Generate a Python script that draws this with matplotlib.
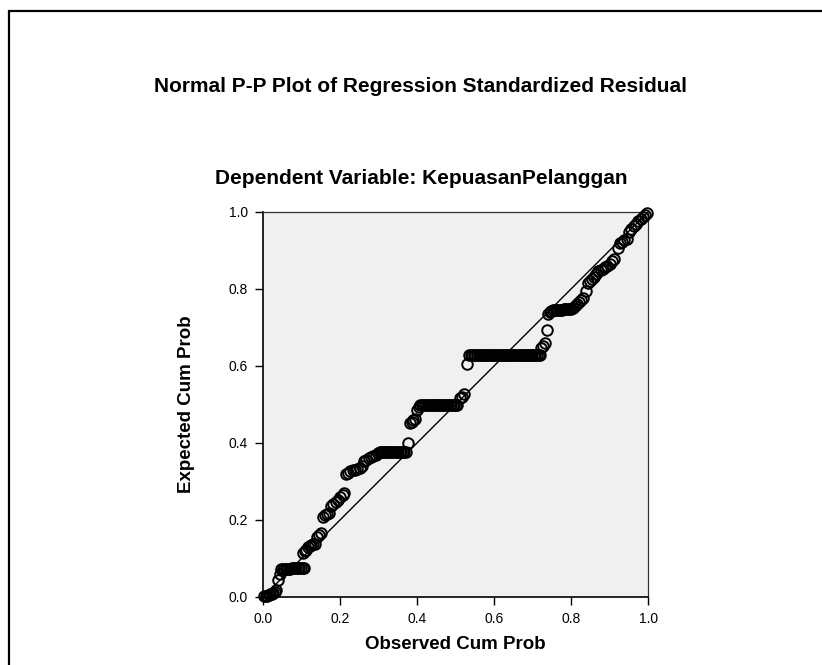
import matplotlib
matplotlib.use("Agg")
import matplotlib.pyplot as plt
from matplotlib.patches import Rectangle

plt.rcParams['font.family'] = ['Liberation Sans', 'DejaVu Sans']

title = "Normal P-P Plot of Regression Standardized Residual"
subtitle = "Dependent Variable: KepuasanPelanggan"
xlabel = "Observed Cum Prob"
ylabel = "Expected Cum Prob"
ticks = [0.0, 0.2, 0.4, 0.6, 0.8, 1.0]
tick_labels = ["0.0", "0.2", "0.4", "0.6", "0.8", "1.0"]

# observed cumulative probability (x) and expected cumulative probability (y)
obs_low = [0.003, 0.006, 0.010, 0.014, 0.018, 0.022, 0.026, 0.030, 0.034, 0.038, 0.043]
exp_low = [0.001, 0.002, 0.003, 0.004, 0.006, 0.008, 0.010, 0.013, 0.017, 0.043, 0.060]

obs_p1 = [0.046, 0.050, 0.054, 0.058, 0.062, 0.066, 0.070, 0.074, 0.078, 0.082,
          0.086, 0.090, 0.094, 0.098, 0.102, 0.106]
exp_p1 = [0.071, 0.072, 0.072, 0.073, 0.073, 0.073, 0.073, 0.074, 0.074, 0.074,
          0.074, 0.074, 0.074, 0.075, 0.075, 0.075]

obs_a = [0.104, 0.108, 0.112, 0.116, 0.120, 0.125, 0.130, 0.135, 0.140, 0.145, 0.150,
         0.155, 0.160, 0.165, 0.170,
         0.176, 0.182, 0.188, 0.194, 0.200, 0.206, 0.210,
         0.214, 0.220, 0.226, 0.232, 0.238, 0.244, 0.250, 0.256,
         0.262, 0.268, 0.274, 0.280, 0.286, 0.292, 0.298]
exp_a = [0.113, 0.118, 0.122, 0.128, 0.132, 0.134, 0.136, 0.138, 0.155, 0.160, 0.165,
         0.207, 0.212, 0.215, 0.218,
         0.235, 0.240, 0.245, 0.250, 0.258, 0.265, 0.270,
         0.318, 0.322, 0.326, 0.328, 0.330, 0.332, 0.335, 0.340,
         0.352, 0.356, 0.360, 0.362, 0.365, 0.368, 0.372]

obs_p2 = [0.302, 0.306, 0.310, 0.314, 0.318, 0.322, 0.326, 0.330, 0.334, 0.338,
          0.342, 0.346, 0.350, 0.354, 0.358, 0.362, 0.366, 0.370]
exp_p2 = [0.375, 0.375, 0.375, 0.375, 0.375, 0.375, 0.375, 0.375, 0.375, 0.375,
          0.375, 0.375, 0.375, 0.375, 0.375, 0.375, 0.375, 0.375]

obs_b = [0.375, 0.380, 0.385, 0.390, 0.395, 0.400, 0.404]
exp_b = [0.400, 0.450, 0.455, 0.458, 0.462, 0.485, 0.492]

obs_p3 = [0.408, 0.412, 0.416, 0.420, 0.424, 0.428, 0.432, 0.436, 0.440, 0.444,
          0.448, 0.452, 0.456, 0.460, 0.464, 0.468, 0.472, 0.476, 0.480, 0.484,
          0.488, 0.492, 0.496, 0.500, 0.504]
exp_p3 = [0.498, 0.498, 0.498, 0.498, 0.498, 0.498, 0.498, 0.498, 0.498, 0.498,
          0.498, 0.498, 0.498, 0.498, 0.498, 0.498, 0.498, 0.498, 0.498, 0.498,
          0.498, 0.498, 0.498, 0.498, 0.498]

obs_c = [0.510, 0.515, 0.520, 0.530]
exp_c = [0.515, 0.520, 0.527, 0.605]

obs_p4 = [0.535, 0.539, 0.543, 0.547, 0.551, 0.555, 0.559, 0.563, 0.567, 0.571,
          0.575, 0.579, 0.583, 0.587, 0.591, 0.595, 0.599, 0.603, 0.607, 0.611,
          0.615, 0.619, 0.623, 0.627, 0.631, 0.635, 0.639, 0.643, 0.647, 0.651,
          0.655, 0.659, 0.663, 0.667, 0.671, 0.675, 0.679, 0.683, 0.687, 0.691,
          0.695, 0.699, 0.703, 0.707, 0.711, 0.715, 0.719]
exp_p4 = [0.627] * 47

obs_d = [0.722, 0.727, 0.731, 0.736, 0.740, 0.744]
exp_d = [0.645, 0.652, 0.658, 0.693, 0.735, 0.740]

obs_p5 = [0.748, 0.752, 0.756, 0.760, 0.764, 0.768, 0.772, 0.776, 0.780, 0.784,
          0.788, 0.792, 0.796, 0.800]
exp_p5 = [0.743, 0.744, 0.744, 0.745, 0.745, 0.745, 0.745, 0.745, 0.746, 0.746,
          0.746, 0.747, 0.747, 0.748]

obs_e = [0.805, 0.810, 0.815, 0.820, 0.825, 0.830, 0.838, 0.843, 0.848, 0.853,
         0.858, 0.864, 0.870, 0.876, 0.882, 0.888, 0.894, 0.900, 0.906, 0.912,
         0.920, 0.926, 0.932, 0.938, 0.944, 0.950, 0.956, 0.962, 0.968, 0.974,
         0.980, 0.986, 0.992, 0.997]
exp_e = [0.750, 0.755, 0.760, 0.765, 0.770, 0.776, 0.795, 0.815, 0.820, 0.826,
         0.830, 0.838, 0.845, 0.848, 0.852, 0.856, 0.860, 0.865, 0.872, 0.878,
         0.905, 0.918, 0.922, 0.926, 0.930, 0.948, 0.955, 0.962, 0.968, 0.975,
         0.982, 0.987, 0.992, 0.997]

observed = obs_low + obs_p1 + obs_a + obs_p2 + obs_b + obs_p3 + obs_c + obs_p4 + obs_d + obs_p5 + obs_e
expected = exp_low + exp_p1 + exp_a + exp_p2 + exp_b + exp_p3 + exp_c + exp_p4 + exp_d + exp_p5 + exp_e
diag = [0.0, 1.0]

W, H = 822, 665
fig = plt.figure(figsize=(W / 100, H / 100), dpi=100)
fig.patch.set_facecolor('white')

# outer frame (left and top visible)
fig.add_artist(Rectangle((8.5 / W, -0.2), 1.2, 1.2 - 11 / H,
                         transform=fig.transFigure, fill=False,
                         edgecolor='black', linewidth=1.6))

ax = fig.add_axes([263.3 / W, 1 - 596.7 / H, 385 / W, 385 / H])
ax.set_facecolor('#F0F0F0')
ax.plot(diag, diag, color='black', linewidth=1.0, zorder=2)
ax.plot(observed, expected, linestyle='none', marker='o', markersize=7.6,
        markerfacecolor='none', markeredgecolor='black', markeredgewidth=1.4,
        clip_on=False, zorder=3)
ax.set_xlim(0, 1)
ax.set_ylim(0, 1)
ax.set_xticks(ticks)
ax.set_xticklabels(tick_labels)
ax.set_yticks(ticks)
ax.set_yticklabels(tick_labels)
ax.tick_params(direction='out', length=6, width=1, labelsize=10, pad=5)
for side in ['left', 'bottom']:
    ax.spines[side].set_linewidth(1.2)
for side in ['top', 'right']:
    ax.spines[side].set_linewidth(0.9)
    ax.spines[side].set_color('#333333')

ax.set_xlabel(xlabel, fontsize=13.5, fontweight='bold', labelpad=7)
ax.set_ylabel(ylabel, fontsize=13.5, fontweight='bold', labelpad=24)

fig.text(420 / W, 1 - 86 / H, title, ha='center', va='center',
         fontsize=15, fontweight='bold')
fig.text(421 / W, 1 - 178 / H, subtitle, ha='center', va='center',
         fontsize=15, fontweight='bold')

fig.savefig('out.png', dpi=100, facecolor='white')
